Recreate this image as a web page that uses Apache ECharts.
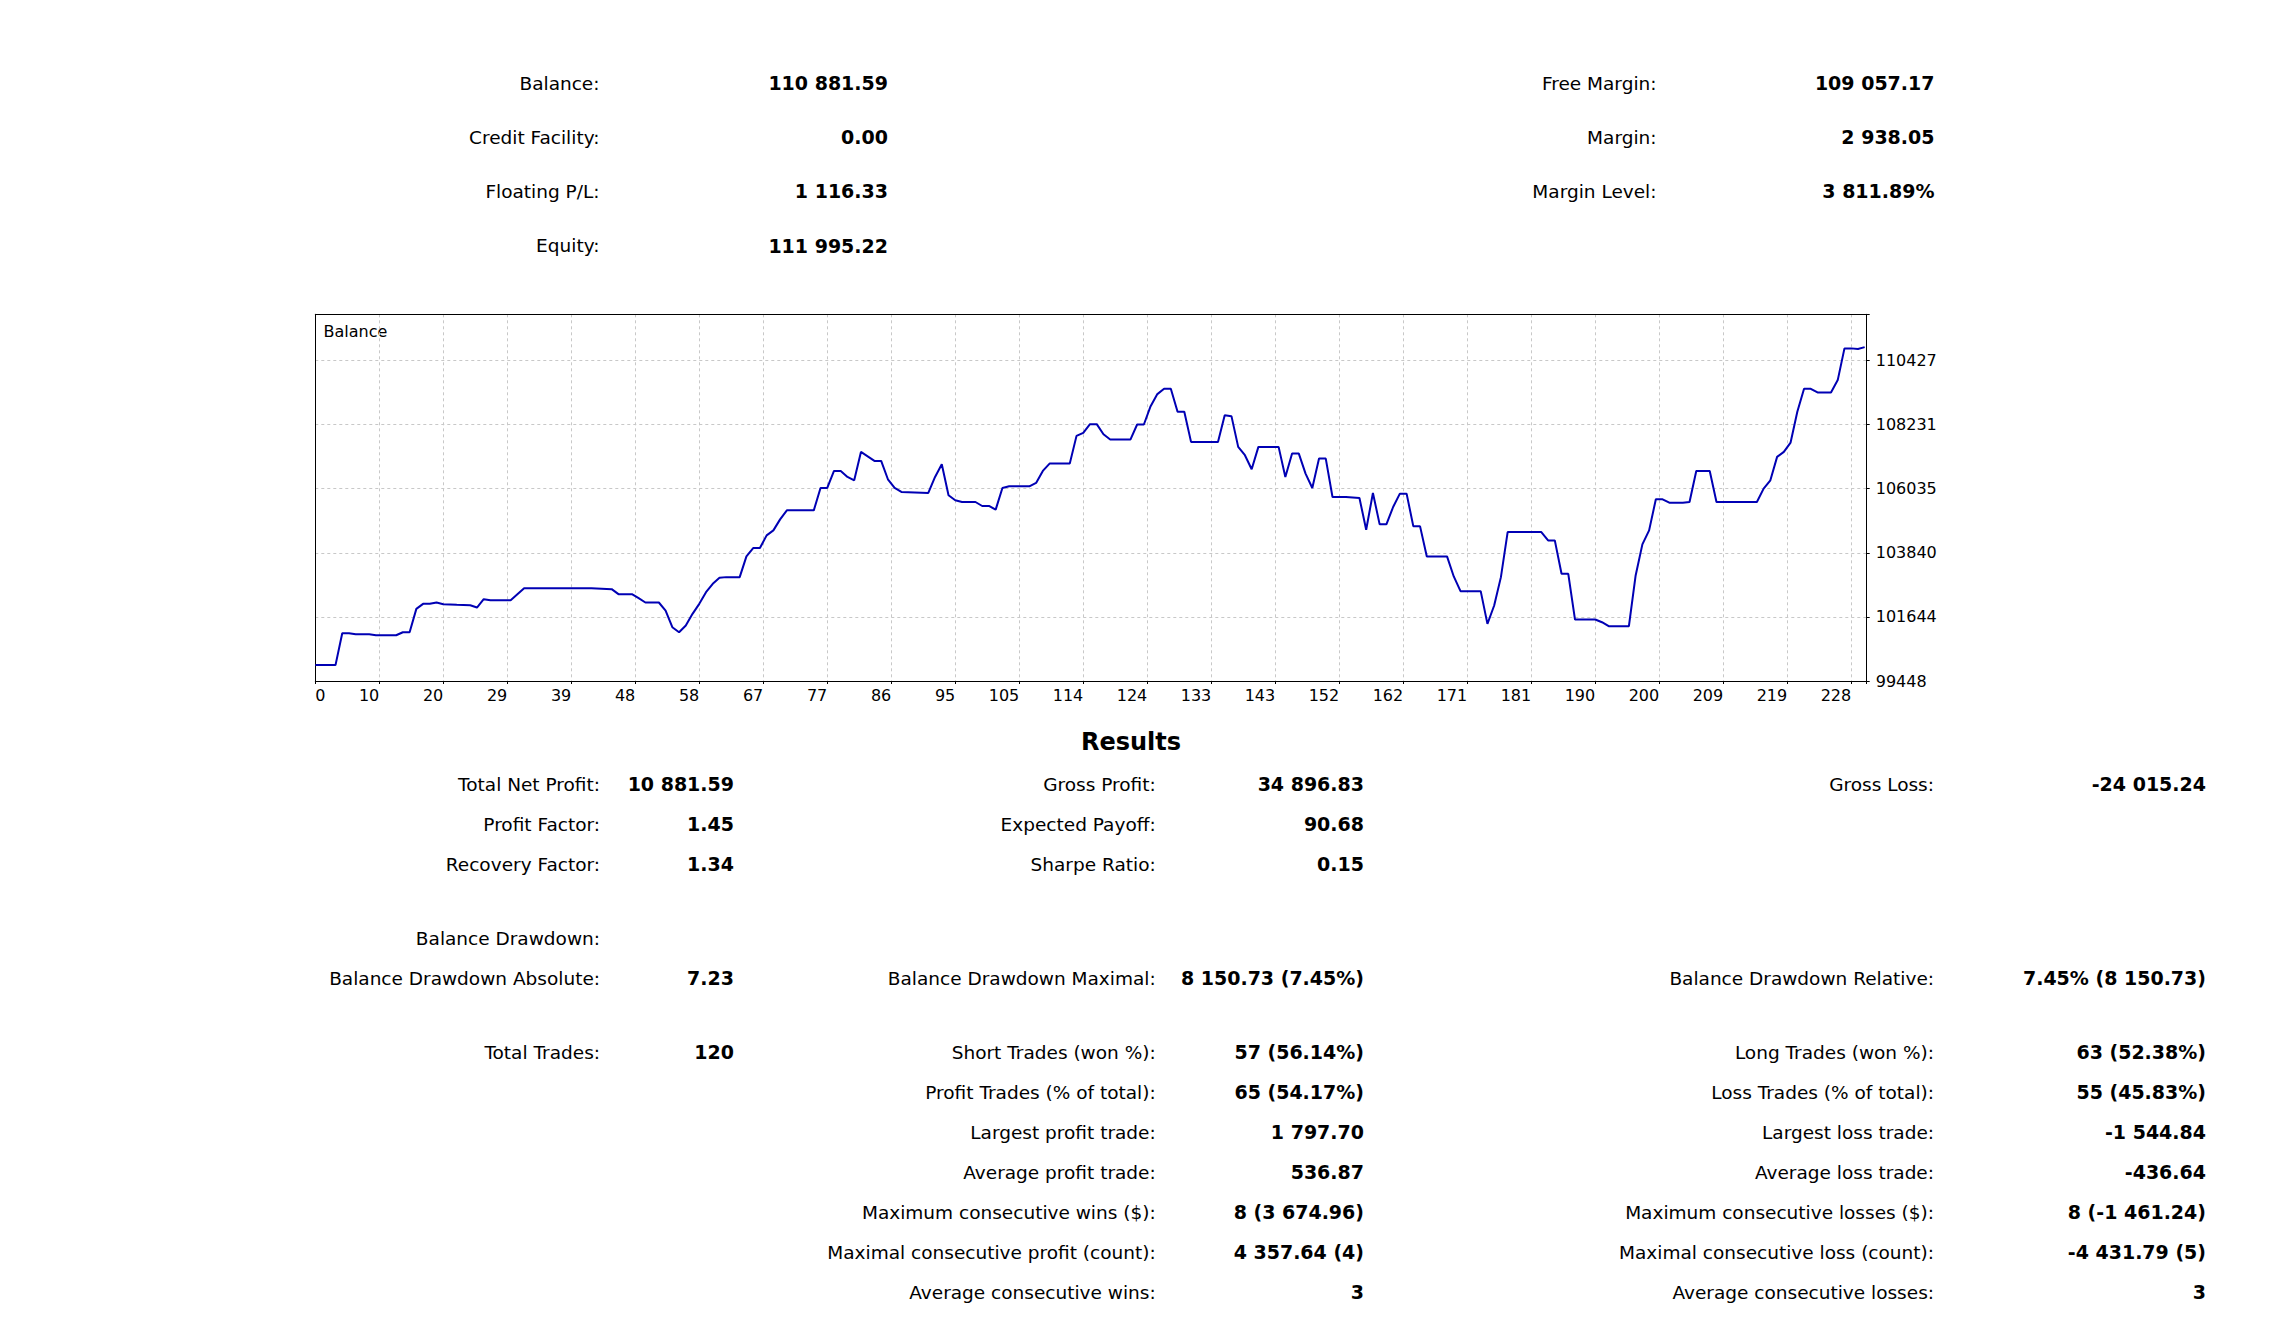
<!DOCTYPE html>
<html>
<head>
<meta charset="utf-8">
<title>Balance</title>
<script src="https://cdn.jsdelivr.net/npm/echarts@6/dist/echarts.min.js"></script>
<style>
  html, body { margin: 0; padding: 0; background: #fff; }
  #chart { width: 2272px; height: 1334px; }
</style>
</head>
<body>
<div id="chart"></div>
<script>
// balance curve: deal index -> balance
const dealIndex = [0, 1, 3, 4, 5, 6, 8, 9, 12, 13, 14, 15, 16, 17, 18, 19, 21, 23, 24, 25, 26, 29, 31, 41, 44, 45, 47, 48, 49, 51,
  52, 53, 54, 55, 56, 57, 58, 59, 60, 61, 63, 64, 65, 66, 67, 68, 69, 70, 74, 75, 76, 77, 78, 79, 80, 81, 83, 84, 85, 86,
  87, 91, 92, 93, 94, 95, 96, 98, 99, 100, 101, 102, 103, 106, 107, 108, 109, 112, 113, 114, 115, 116, 117, 118, 121, 122, 123, 124, 125, 126,
  127, 128, 129, 130, 134, 135, 136, 137, 138, 139, 140, 143, 144, 145, 146, 147, 148, 149, 150, 151, 153, 155, 156, 157, 158, 159, 160, 161, 162, 163,
  164, 165, 168, 169, 170, 173, 174, 175, 176, 177, 182, 183, 184, 185, 186, 187, 190, 191, 192, 195, 196, 197, 198, 199, 200, 201, 203, 204, 205, 207,
  208, 214, 215, 216, 217, 218, 219, 220, 221, 222, 223, 225, 226, 227, 228, 229, 230];
const balance = [100000, 99992.77, 99992.77, 101084, 101084, 101049, 101049, 101015, 101015, 101118, 101118, 101918, 102090, 102090, 102136, 102079, 102056, 102044, 101964, 102250, 102216, 102216, 102627, 102627, 102593, 102422, 102422, 102284, 102136, 102136,
  101861, 101290, 101118, 101347, 101747, 102090, 102490, 102776, 102982, 103005, 103005, 103714, 104000, 104000, 104434, 104606, 104983, 105292, 105292, 106058, 106058, 106641, 106641, 106436, 106321, 107293, 106985, 106985, 106356, 106058,
  105921, 105887, 106436, 106870, 105807, 105635, 105578, 105578, 105441, 105441, 105315, 106058, 106115, 106115, 106230, 106641, 106893, 106893, 107842, 107945, 108243, 108243, 107899, 107716, 107716, 108231, 108231, 108860, 109272, 109455,
  109455, 108666, 108666, 107636, 107636, 108551, 108517, 107465, 107179, 106699, 107465, 107465, 106436, 107236, 107236, 106550, 106058, 107065, 107065, 105750, 105750, 105715, 104629, 105887, 104812, 104812, 105406, 105864, 105864, 104743,
  104743, 103714, 103714, 103028, 102525, 102525, 101404, 102033, 103005, 104549, 104549, 104263, 104263, 103119, 103119, 101553, 101553, 101461, 101324, 101324, 103062, 104126, 104606, 105670, 105670, 105555, 105555, 105578, 106641, 106641,
  105578, 105578, 106035, 106321, 107122, 107293, 107613, 108666, 109455, 109455, 109329, 109329, 109752, 110838, 110838, 110815, 110881.59];

// axis ticks
const xTickLabels = ['0', '10', '20', '29', '39', '48', '58', '67', '77', '86', '95', '105', '114', '124', '133', '143', '152', '162', '171', '181', '190', '200', '209', '219', '228'];
const xTickStep = 9.5;
const xMax = 230.3;
const yMin = 99448;
const yStep = 2195.8;
const yMax = 112005;

// account summary
const accountLabels = ['Balance:', 'Credit Facility:', 'Floating P/L:', 'Equity:'];
const accountValues = ['110 881.59', '0.00', '1 116.33', '111 995.22'];
const marginLabels = ['Free Margin:', 'Margin:', 'Margin Level:'];
const marginValues = ['109 057.17', '2 938.05', '3 811.89%'];

// results table: [row, label, value]
const resultsCol1 = [
  [0, 'Total Net Profit:', '10 881.59'],
  [1, 'Profit Factor:', '1.45'],
  [2, 'Recovery Factor:', '1.34'],
  [3, 'Balance Drawdown:', ''],
  [4, 'Balance Drawdown Absolute:', '7.23'],
  [5, 'Total Trades:', '120']
];
const resultsCol2 = [
  [0, 'Gross Profit:', '34 896.83'],
  [1, 'Expected Payoff:', '90.68'],
  [2, 'Sharpe Ratio:', '0.15'],
  [4, 'Balance Drawdown Maximal:', '8 150.73 (7.45%)'],
  [5, 'Short Trades (won %):', '57 (56.14%)'],
  [6, 'Profit Trades (% of total):', '65 (54.17%)'],
  [7, 'Largest profit trade:', '1 797.70'],
  [8, 'Average profit trade:', '536.87'],
  [9, 'Maximum consecutive wins ($):', '8 (3 674.96)'],
  [10, 'Maximal consecutive profit (count):', '4 357.64 (4)'],
  [11, 'Average consecutive wins:', '3']
];
const resultsCol3 = [
  [0, 'Gross Loss:', '-24 015.24'],
  [4, 'Balance Drawdown Relative:', '7.45% (8 150.73)'],
  [5, 'Long Trades (won %):', '63 (52.38%)'],
  [6, 'Loss Trades (% of total):', '55 (45.83%)'],
  [7, 'Largest loss trade:', '-1 544.84'],
  [8, 'Average loss trade:', '-436.64'],
  [9, 'Maximum consecutive losses ($):', '8 (-1 461.24)'],
  [10, 'Maximal consecutive loss (count):', '-4 431.79 (5)'],
  [11, 'Average consecutive losses:', '3']
];

const FONT = '"DejaVu Sans", Verdana, sans-serif';
const rowY = [784, 824, 864, 938, 978, 1052, 1092, 1132, 1172, 1212, 1252, 1292];

function txt(x, y, text, bold, size, align) {
  return {
    type: 'text',
    x: x,
    y: y,
    silent: true,
    style: {
      text: text,
      fill: '#000',
      font: (bold ? 'bold ' : '') + size + 'px ' + FONT,
      textAlign: align || 'right',
      align: align || 'right',
      textVerticalAlign: 'middle',
      verticalAlign: 'middle'
    }
  };
}

const graphics = [];
accountLabels.forEach((l, i) => {
  const y = 83 + i * 54.2;
  graphics.push(txt(599.5, y, l, false, 18.5));
  graphics.push(txt(888, y, accountValues[i], true, 19));
});
marginLabels.forEach((l, i) => {
  const y = 83 + i * 54.2;
  graphics.push(txt(1656.5, y, l, false, 18.5));
  graphics.push(txt(1934.5, y, marginValues[i], true, 19));
});
graphics.push(txt(1131, 742, 'Results', true, 24, 'center'));
[[resultsCol1, 600, 734], [resultsCol2, 1155.7, 1364], [resultsCol3, 1934, 2206]].forEach(([col, lx, vx]) => {
  col.forEach(([r, label, value]) => {
    graphics.push(txt(lx, rowY[r], label, false, 18.5));
    if (value) graphics.push(txt(vx, rowY[r], value, true, 19));
  });
});
graphics.push(txt(323.5, 331.5, 'Balance', false, 16, 'left'));

const chart = echarts.init(document.getElementById('chart'), null, { renderer: 'svg' });
chart.setOption({
  animation: false,
  backgroundColor: '#fff',
  grid: {
    left: 315.3,
    top: 314.3,
    right: 2272 - 1866.7,
    bottom: 1334 - 681,
    show: false,
    containLabel: false
  },
  xAxis: [{
    type: 'value',
    min: 0,
    max: xMax,
    interval: xTickStep,
    axisLine: { show: true, onZero: false, lineStyle: { color: '#000', width: 1 } },
    axisTick: { show: true, length: 3, lineStyle: { color: '#000' } },
    splitLine: { show: true, showMinLine: false, showMaxLine: false, lineStyle: { color: '#c8c8c8', type: [3, 3], width: 1 } },
    axisLabel: {
      color: '#000',
      fontFamily: FONT,
      fontSize: 16,
      margin: 6,
      align: 'right',
      alignMinLabel: 'left',
      hideOverlap: false,
      showMinLabel: true,
      showMaxLabel: true,
      formatter: function (v) {
        const k = Math.round(v / xTickStep);
        if (Math.abs(v - k * xTickStep) > 0.01) return '';
        return xTickLabels[k] || '';
      }
    }
  }, {
    // top frame line
    type: 'value',
    position: 'top',
    min: 0,
    max: xMax,
    axisLine: { show: true, onZero: false, lineStyle: { color: '#000', width: 1 } },
    axisTick: { show: false },
    axisLabel: { show: false },
    splitLine: { show: false }
  }],
  yAxis: [{
    type: 'value',
    position: 'right',
    min: yMin,
    max: yMax,
    interval: yStep,
    axisLine: { show: true, onZero: false, lineStyle: { color: '#000', width: 1 } },
    axisTick: { show: true, length: 3, lineStyle: { color: '#000' } },
    splitLine: { show: true, showMinLine: false, showMaxLine: false, lineStyle: { color: '#c8c8c8', type: [3, 3], width: 1 } },
    axisLabel: {
      color: '#000',
      fontFamily: FONT,
      fontSize: 16,
      margin: 9,
      hideOverlap: false,
      showMinLabel: true,
      showMaxLabel: true,
      formatter: function (v) {
        const k = Math.round((v - yMin) / yStep);
        if (Math.abs(v - (yMin + k * yStep)) > 1 || v > yMax - 100) return '';
        return String(Math.round(v));
      }
    }
  }, {
    // left frame line
    type: 'value',
    position: 'left',
    min: yMin,
    max: yMax,
    axisLine: { show: true, onZero: false, lineStyle: { color: '#000', width: 1 } },
    axisTick: { show: false },
    axisLabel: { show: false },
    splitLine: { show: false }
  }],
  series: [{
    type: 'line',
    data: dealIndex.map((x, i) => [x, balance[i]]),
    showSymbol: false,
    symbol: 'none',
    lineStyle: { color: '#0000b4', width: 2 },
    clip: true
  }],
  graphic: graphics
});
</script>
</body>
</html>
